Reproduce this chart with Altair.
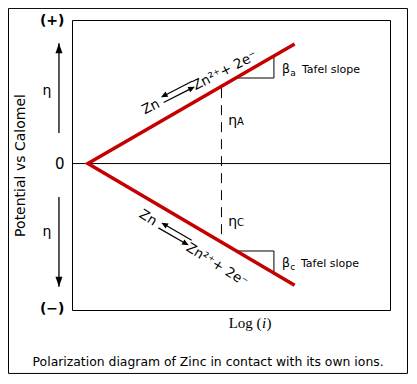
import altair as alt
import pandas as pd

# ---------------- data (schematic units: x = log i, y = potential vs calomel) ----
curve_x = [7.0, 0.5, 7.0]
curve_y = [0.825, 0.0, -0.84]
curve_ord = [0, 1, 2]

zero_x = [0.0, 10.0]
zero_y = [0.0, 0.0]

dash_x = [4.7]
dash_y_top = [0.52]
dash_y_bot = [-0.55]

tafel_x = [5.15, 6.35, 6.35, 5.17, 6.35, 6.35]
tafel_y = [0.59, 0.59, 0.742, -0.603, -0.603, -0.756]
tafel_grp = ["a", "a", "a", "c", "c", "c"]
tafel_ord = [0, 1, 2, 0, 1, 2]

y_ticks = [-1, 0, 0.99]

# centred labels (rotated reaction texts, eta labels, caption)
c_text = ["Zn", "Zn²⁺+ 2e⁻", "Zn", "Zn²⁺+ 2e⁻", "η", "η",
          "Polarization diagram of Zinc in contact with its own ions."]
c_x = [2.48, 4.81, 2.39, 4.56, -0.79, -0.79, 4.28]
c_y = [0.39, 0.639, -0.375, -0.70, 0.50, -0.47, -1.368]
c_size = [13.5, 13.5, 13.5, 13.5, 14, 14, 12.4]
c_angle = [333, 333, 32, 32, 0, 0, 0]

# left aligned labels (Tafel slopes, eta A / eta C)
l_text = ["β", "a", "Tafel slope", "β", "c", "Tafel slope", "η", "A", "η", "C"]
l_x = [6.60, 6.86, 7.23, 6.60, 6.86, 7.20, 4.91, 5.19, 4.91, 5.19]
l_y = [0.625, 0.604, 0.625, -0.713, -0.735, -0.713, 0.266, 0.266, -0.43, -0.43]
l_size = [12.5, 9, 11, 12.5, 9, 11, 14, 10, 14, 10]

# reaction double arrows
arr_x = [3.33, 3.24]
arr_y = [0.494, -0.486]
arr_angle = [333, 30]

# left eta arrows
varr_x = [-0.41, -0.41]
varr_base = [0.211, -0.23]
varr_tip = [0.83, -0.85]

# x-axis label "Log (i)"
log_x = [6.04]
log_y = [-1.10]

# outer frame
frame_x = [-1.997]
frame_x2 = [10.55]
frame_y = [1.0697]
frame_y2 = [-1.4476]

RED = "#c40000"
FONT = "DejaVu Sans"

xs = alt.Scale(domain=[0, 10], nice=False, zero=False)
ys = alt.Scale(domain=[-1.01, 0.99], nice=False, zero=False)
yaxis = alt.Axis(
    values=y_ticks, domain=False, ticks=False, grid=False,
    labelExpr="datum.value > 0.5 ? '(+)' : (datum.value < -0.5 ? '(\u2212)' : '0')",
    labelFontSize={"condition": {"test": "datum.value == 0", "value": 15}, "value": 14},
    labelFontWeight={"condition": {"test": "datum.value == 0", "value": "normal"}, "value": "bold"},
    labelFont=FONT, labelColor="black", labelPadding=8, labelOverlap=False,
    labelBound=False, labelAlign="right", labelBaseline="middle",
    title="Potential vs Calomel", titleFont=FONT, titleFontSize=14,
    titleFontWeight="normal", titleColor="black", titleAngle=270,
    titleX=-52, titleY=145, titleAlign="center", titleBaseline="middle",
)


def X(f="x"):
    return alt.X(f, type="quantitative", scale=xs, axis=None)


def Y(f="y"):
    return alt.Y(f, type="quantitative", scale=ys, axis=yaxis)


frame = alt.Chart(pd.DataFrame({"x": frame_x, "x2": frame_x2, "y": frame_y, "y2": frame_y2})).mark_rect(
    filled=False, stroke="black", strokeWidth=1
).encode(x=X(), x2="x2", y=Y(), y2="y2")

zero = alt.Chart(pd.DataFrame({"x": zero_x, "y": zero_y})).mark_line(
    color="black", strokeWidth=1
).encode(x=X(), y=Y())

dash = alt.Chart(pd.DataFrame({"x": dash_x, "y": dash_y_top, "y2": dash_y_bot})).mark_rule(
    color="black", strokeWidth=1, strokeDash=[10, 7]
).encode(x=X(), y=Y(), y2="y2")

tafel = alt.Chart(pd.DataFrame({"x": tafel_x, "y": tafel_y, "g": tafel_grp, "o": tafel_ord})).mark_line(
    color="black", strokeWidth=1
).encode(x=X(), y=Y(), detail="g:N", order="o:Q")

curve = alt.Chart(pd.DataFrame({"x": curve_x, "y": curve_y, "o": curve_ord})).mark_line(
    color=RED, strokeWidth=3.5, strokeJoin="miter"
).encode(x=X(), y=Y(), order="o:Q")

ctext = alt.Chart(pd.DataFrame({"x": c_x, "y": c_y, "t": c_text, "s": c_size, "a": c_angle})).mark_text(
    font=FONT, align="center", baseline="middle", color="black"
).encode(x=X(), y=Y(), text="t:N",
         size=alt.Size("s:Q", scale=None, legend=None),
         angle=alt.Angle("a:Q", scale=None))

ltext = alt.Chart(pd.DataFrame({"x": l_x, "y": l_y, "t": l_text, "s": l_size})).mark_text(
    font=FONT, align="left", baseline="alphabetic", color="black"
).encode(x=X(), y=Y(), text="t:N", size=alt.Size("s:Q", scale=None, legend=None))

ARROW_PAIR = ("M -1 -0.17 L -0.62 -0.34 L -0.62 -0.205 L 1 -0.205 L 1 -0.135 L -0.62 -0.135 L -0.62 0 Z "
              "M 1 0.17 L 0.62 0 L 0.62 0.135 L -1 0.135 L -1 0.205 L 0.62 0.205 L 0.62 0.34 Z")
arrows = alt.Chart(pd.DataFrame({"x": arr_x, "y": arr_y, "a": arr_angle})).mark_point(
    shape=ARROW_PAIR, filled=True, color="black", opacity=1, size=1225, strokeWidth=0
).encode(x=X(), y=Y(), angle=alt.Angle("a:Q", scale=None))

vdf = pd.DataFrame({"x": varr_x, "y": varr_base, "y2": varr_tip})
vshaft = alt.Chart(vdf).mark_rule(color="black", strokeWidth=1.3).encode(x=X(), y=Y(), y2="y2")
up_head = alt.Chart(pd.DataFrame({"x": varr_x[:1], "y": varr_tip[:1]})).mark_point(
    shape="M 0 -1 L 0.7 1 L -0.7 1 Z", filled=True, color="black", opacity=1, size=100,
    strokeWidth=0, yOffset=5
).encode(x=X(), y=Y())
down_head = alt.Chart(pd.DataFrame({"x": varr_x[1:], "y": varr_tip[1:]})).mark_point(
    shape="M 0 1 L 0.7 -1 L -0.7 -1 Z", filled=True, color="black", opacity=1, size=100,
    strokeWidth=0, yOffset=-5
).encode(x=X(), y=Y())

logdf = pd.DataFrame({"x": log_x, "y": log_y})
log_a = alt.Chart(logdf).mark_text(text="Log (", font="Liberation Serif", fontSize=15,
                                   align="right", baseline="middle", dx=-2.5, color="black").encode(x=X(), y=Y())
log_b = alt.Chart(logdf).mark_text(text="i", font="Liberation Serif", fontSize=15, fontStyle="italic",
                                   align="center", baseline="middle", color="black").encode(x=X(), y=Y())
log_c = alt.Chart(logdf).mark_text(text=")", font="Liberation Serif", fontSize=15,
                                   align="left", baseline="middle", dx=2.5, color="black").encode(x=X(), y=Y())

chart = alt.layer(
    frame, zero, dash, tafel, curve, arrows, vshaft, up_head, down_head,
    ctext, ltext, log_a, log_b, log_c
).properties(
    width=318, height=290,
    padding={"left": 64, "top": 12, "right": 18, "bottom": 64},
    autosize=alt.AutoSizeParams(type="none"),
    background="white",
).configure_view(stroke="black", strokeWidth=1)

chart.save("out.html", embed_options={"renderer": "svg", "actions": False})
